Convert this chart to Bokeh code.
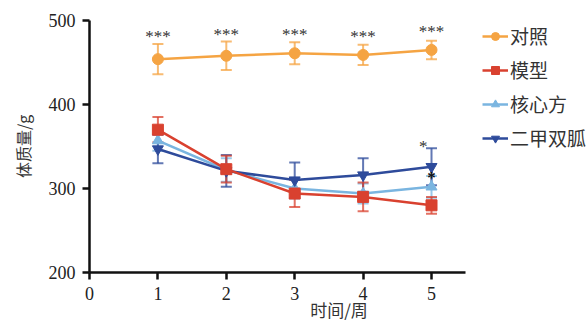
from bokeh.plotting import figure
from bokeh.models import ColumnDataSource, Whisker, Range1d, Legend, LegendItem, FixedTicker, TeeHead
from bokeh.core.properties import value
from bokeh.embed import file_html
from bokeh.resources import INLINE

weeks = [1, 2, 3, 4, 5]
control = [454, 458, 461, 459, 465]
control_err = [18, 17, 13, 12, 11]
model = [370, 323, 294, 290, 280]
model_err = [15, 16, 16, 17, 10]
hxf = [357, 322, 300, 294, 302]
hxf_err = [12, 14, 12, 12, 13]
met = [347, 321, 310, 316, 326]
met_err = [17, 19, 21, 20, 22]

names = ["对照", "模型", "核心方", "二甲双胍"]
colors = ["#F5A443", "#D9412F", "#7AB5E0", "#2E4B9B"]
markers = ["circle", "square", "triangle", "inverted_triangle"]

star_x = [1, 2, 3, 4, 5]
star_y = [481, 483, 483, 481, 487]
star_t = ["***"] * 5
met_star_x = [4.88]
met_star_y = [350]
hxf_star_x = [5.0]
hxf_star_y = [313]

p = figure(width=588, height=324, output_backend="svg", toolbar_location=None,
           x_range=Range1d(0, 7.295), y_range=Range1d(200, 500),
           min_border_left=89, min_border_right=0, min_border_top=20, min_border_bottom=52)
p.outline_line_color = None
p.grid.visible = False

for ax in (p.xaxis[0], p.yaxis[0]):
    ax.axis_line_width = 2.5
    ax.axis_line_color = "#111111"
    ax.major_tick_line_width = 2.5
    ax.major_tick_line_color = "#111111"
    ax.major_tick_out = 7
    ax.major_tick_in = 0
    ax.minor_tick_line_color = None
    ax.major_label_text_font = "Liberation Serif"
    ax.major_label_text_font_size = "18px"
    ax.major_label_text_color = "#222222"
    ax.axis_label_text_font = "Noto Sans CJK SC"
    ax.axis_label_text_font_style = "normal"
    ax.axis_label_text_color = "#333333"

p.xaxis.bounds = (0, 5.5)
p.xaxis.ticker = FixedTicker(ticks=[0, 1, 2, 3, 4, 5])
p.yaxis.ticker = FixedTicker(ticks=[200, 300, 400, 500])
p.xaxis.axis_label = "时间/周"
p.yaxis.axis_label = "体质量/g"
p.xaxis.axis_label_text_font_size = "17px"
p.yaxis.axis_label_text_font_size = "16px"
p.xaxis.major_label_standoff = 7
p.yaxis.major_label_standoff = 7
p.xaxis.axis_label_standoff = -6
p.yaxis.axis_label_standoff = 11

series = [control, model, hxf, met]
errs = [control_err, model_err, hxf_err, met_err]
order = [0, 2, 3, 1]
items = {}
for i in order:
    ys = series[i]
    es = errs[i]
    src = ColumnDataSource(dict(x=weeks, y=ys,
                                upper=[a + b for a, b in zip(ys, es)],
                                lower=[a - b for a, b in zip(ys, es)]))
    w = Whisker(source=src, base="x", upper="upper", lower="lower",
                line_color=colors[i], line_width=2, line_alpha=0.75,
                upper_head=TeeHead(size=11, line_color=colors[i], line_width=2, line_alpha=0.75),
                lower_head=TeeHead(size=11, line_color=colors[i], line_width=2, line_alpha=0.75))
    p.add_layout(w)
    l = p.line("x", "y", source=src, line_color=colors[i], line_width=2.5)
    s = p.scatter("x", "y", source=src, marker=markers[i], size=11,
                  fill_color=colors[i], line_color=colors[i])
    items[i] = LegendItem(label=names[i], renderers=[l, s])

p.text(x=star_x, y=star_y, text=star_t, text_font=value("Liberation Serif"),
       text_font_size="17px", text_align="center", text_baseline="middle", text_color="#333333")
p.text(x=met_star_x, y=met_star_y, text=["*"], text_font=value("Liberation Serif"),
       text_font_size="17px", text_align="center", text_baseline="middle", text_color="#333333")
p.text(x=hxf_star_x, y=hxf_star_y, text=["*"], text_font=value("Liberation Serif"),
       text_font_size="17px", text_align="center", text_baseline="middle", text_color="#111111",
       text_font_style="bold")

legend = Legend(items=[items[0], items[1], items[2], items[3]], location=(393, 121))
legend.label_text_font = "Noto Sans CJK SC"
legend.label_text_font_size = "19px"
legend.label_text_color = "#333333"
legend.glyph_width = 26
legend.glyph_height = 20
legend.spacing = 7
legend.padding = 0
legend.margin = 0
legend.label_standoff = 2
legend.border_line_color = None
legend.background_fill_alpha = 0
p.add_layout(legend)

open("out.html", "w").write(file_html(p, INLINE))
